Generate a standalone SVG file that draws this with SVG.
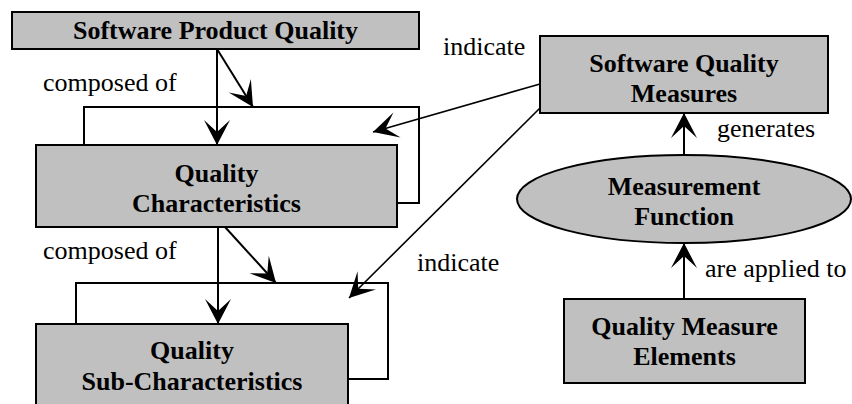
<svg xmlns="http://www.w3.org/2000/svg" width="852" height="404" viewBox="0 0 852 404">
<defs>
<style>
.box{fill:#c0c0c0;stroke:#000;stroke-width:2}
.back{fill:none;stroke:#000;stroke-width:2}
.t{font-family:'Liberation Serif','Times New Roman',serif;font-size:26px;font-weight:bold;fill:#000;text-anchor:middle}
.lbl{font-family:'Liberation Serif','Times New Roman',serif;font-size:26px;fill:#000}
.c{fill:none;stroke:#000;stroke-width:2;marker-end:url(#ah)}
.ci{fill:none;stroke:#000;stroke-width:1.6;marker-end:url(#ah)}
</style>
<marker id="ah" markerUnits="userSpaceOnUse" markerWidth="30" markerHeight="30" viewBox="-26 -15 28 30" refX="0" refY="0" orient="auto">
<path d="M0,0 L-25,-13 L-13,0 L-25,13 Z" fill="#000"/>
</marker>
</defs>
<rect width="852" height="404" fill="#fff"/>
<g id="back-frames">
<path class="back" d="M84,145 V107 H419 V203 H397"/>
<path class="back" d="M76,324 V283 H388 V379 H348"/>
</g>
<g id="spq">
<rect class="box" x="12" y="12" width="407" height="37"/>
<text class="t" x="215.5" y="39">Software Product Quality</text>
</g>
<g id="qc">
<rect class="box" x="36" y="145" width="361" height="82"/>
<text class="t" x="216.5" y="182">Quality</text>
<text class="t" x="216.5" y="212">Characteristics</text>
</g>
<g id="qcs">
<rect class="box" x="36" y="324" width="312" height="100"/>
<text class="t" x="192" y="359">Quality</text>
<text class="t" x="192" y="390">Sub-Characteristics</text>
</g>
<g id="sqm">
<rect class="box" x="540" y="36" width="288" height="77"/>
<text class="t" x="684" y="72">Software Quality</text>
<text class="t" x="684" y="102">Measures</text>
</g>
<g id="mf">
<ellipse class="box" cx="684" cy="199" rx="167" ry="44"/>
<text class="t" x="684" y="195">Measurement</text>
<text class="t" x="684" y="225">Function</text>
</g>
<g id="qme">
<rect class="box" x="564" y="299" width="241" height="84"/>
<text class="t" x="684.5" y="335">Quality Measure</text>
<text class="t" x="684.5" y="365">Elements</text>
</g>
<g id="connectors">
<line class="c" x1="217" y1="49" x2="217" y2="145"/>
<line class="c" x1="217" y1="49" x2="253" y2="107"/>
<line class="ci" x1="540" y1="84" x2="373" y2="132"/>
<line class="c" x1="218" y1="227" x2="218" y2="324"/>
<line class="c" x1="225" y1="227" x2="276" y2="283"/>
<line class="ci" x1="540" y1="108" x2="349" y2="298"/>
<line class="c" x1="684" y1="155" x2="684" y2="113"/>
<line class="c" x1="684" y1="299" x2="684" y2="243"/>
</g>
<g id="labels">
<text class="lbl" x="43" y="91">composed of</text>
<text class="lbl" x="43" y="259">composed of</text>
<text class="lbl" x="443" y="55">indicate</text>
<text class="lbl" x="417" y="271">indicate</text>
<text class="lbl" x="717" y="137">generates</text>
<text class="lbl" x="705" y="277">are applied to</text>
</g>
</svg>
